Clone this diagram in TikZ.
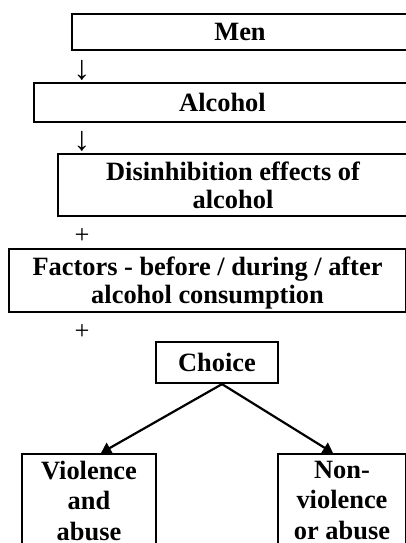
\documentclass[tikz,border=0pt]{standalone}
\usepackage{fontspec}
\setmainfont{Liberation Serif}
\usetikzlibrary{arrows.meta, positioning, calc}

\tikzset{
  stagebox/.style={draw, line width=1.1pt, align=center, inner sep=0pt,
    font=\fontsize{13.2}{14}\selectfont\bfseries},
  sign/.style={inner sep=0pt, font=\fontsize{13.2}{14}\selectfont},
  pick/.style={-{Triangle[length=5pt, width=6pt]}, line width=1.1pt}
}

\begin{document}
\begin{tikzpicture}[x=0.5pt, y=-0.5pt]
  \useasboundingbox (0, 0) rectangle (406, 543);
  \clip (0, 0) rectangle (406, 543);

  % Chain
  \node[stagebox, minimum width=168pt, minimum height=18pt] (men) at (240, 32) {Men};
  \node[sign, font=\fontsize{17}{17}\selectfont] (arrA) at (82, 70) {↓};
  \node[stagebox, minimum width=188.5pt, minimum height=19.5pt] (alcohol) at (222.5, 102.5) {Alcohol};
  \node[sign, font=\fontsize{17}{17}\selectfont] (arrB) at (82, 141) {↓};
  \node[stagebox, minimum width=175pt, minimum height=31pt, text depth=0pt] (disinh) at (233, 185) {Disinhibition effects of\\alcohol};
  \node[sign] (plusA) at (82, 236) {+};
  \node[stagebox, minimum width=198.5pt, minimum height=31.5pt, text depth=0pt] (factors) at (207.5, 280.5) {Factors - before / during / after\\alcohol consumption};
  \node[sign] (plusB) at (82, 332) {+};

  % Choice
  \node[stagebox, minimum width=61pt, minimum height=20.5pt] (choice) at (217, 362.5) {Choice};
  \node[stagebox, anchor=north, minimum width=67pt, inner ysep=3.5pt, text depth=10pt,
    font=\fontsize{13.2}{15.2}\selectfont\bfseries] (violence) at (89, 453) {Violence\\and\\abuse};
  \node[stagebox, anchor=north, minimum width=64pt, inner ysep=3.5pt, text depth=10pt,
    font=\fontsize{13.2}{15.2}\selectfont\bfseries] (nonviol) at (342, 453) {Non-\\violence\\or abuse};
  \draw[pick] ([xshift=2.5pt]choice.south) -- ([xshift=6pt]violence.north);
  \draw[pick] ([xshift=2.5pt]choice.south) -- ([xshift=-4.5pt]nonviol.north);
\end{tikzpicture}
\end{document}
